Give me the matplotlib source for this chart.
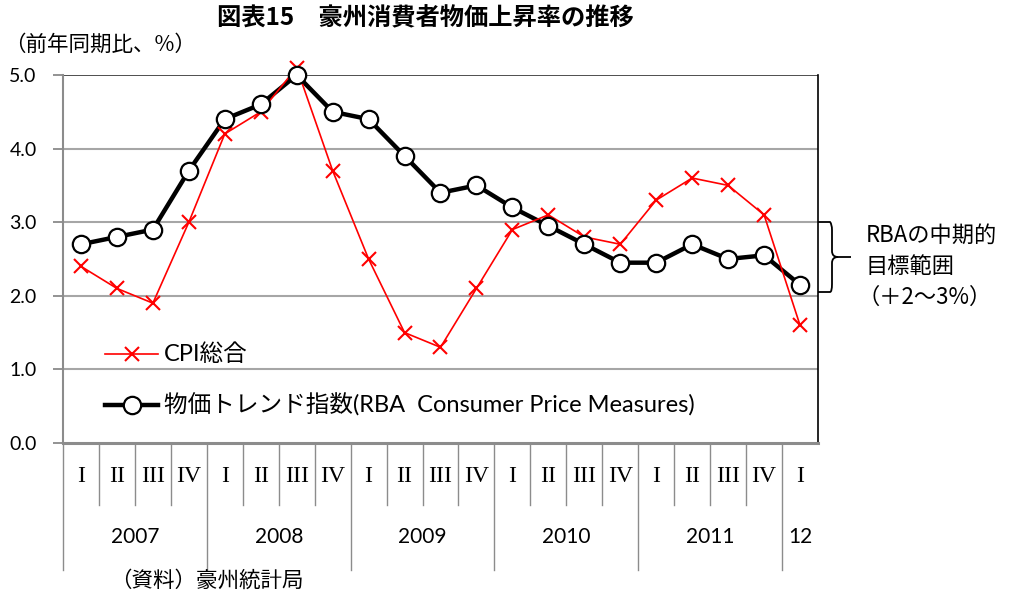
import numpy as np
import matplotlib
matplotlib.use("Agg")
import matplotlib.pyplot as plt
from matplotlib.path import Path
from matplotlib.patches import PathPatch
import matplotlib.transforms as mtransforms

plt.rcParams['font.family'] = ['Noto Sans CJK JP', 'DejaVu Sans']

# ---- data ----
quarters = ['I', 'II', 'III', 'IV'] * 5 + ['I']
years = ['2007', '2008', '2009', '2010', '2011', '12']
year_quarters = [4, 4, 4, 4, 4, 1]
cpi = [2.4, 2.1, 1.9, 3.0, 4.2, 4.5, 5.1, 3.7, 2.5, 1.5, 1.3, 2.1,
       2.9, 3.1, 2.8, 2.7, 3.3, 3.6, 3.5, 3.1, 1.6]
trend = [2.7, 2.8, 2.9, 3.7, 4.4, 4.6, 5.0, 4.5, 4.4, 3.9, 3.4, 3.5,
         3.2, 2.95, 2.7, 2.45, 2.45, 2.7, 2.5, 2.55, 2.15]
yticks = [0.0, 1.0, 2.0, 3.0, 4.0, 5.0]

title = '図表15　豪州消費者物価上昇率の推移'
ylabel = '（前年同期比、%）'
cpi_label = 'CPI総合'
trend_label = '物価トレンド指数(RBA  Consumer Price Measures)'
target_lines = ['RBAの中期的', '目標範囲', '（＋2～3%）']
source = '（資料）豪州統計局'

W, H = 1012, 596
fig = plt.figure(figsize=(W / 100, H / 100), dpi=100)
L, R, T, B = 63, 818, 75, 443
ax = fig.add_axes([L / W, 1 - B / H, (R - L) / W, (B - T) / H])

x = np.arange(len(cpi))
latin = ['Lato', 'Noto Sans CJK JP']

# lines
ax.plot(x, trend, color='black', lw=3.2, zorder=2, solid_joinstyle='round')
ax.plot(x, cpi, color='#ff0000', lw=1.2, zorder=3)
ax.plot(x, cpi, ls='none', marker='x', ms=9.5, mew=1.5, color='#ff0000',
        zorder=4, clip_on=False)
ax.plot(x, trend, ls='none', marker='o', ms=12.5, mfc='white', mec='black',
        mew=1.6, zorder=5, clip_on=False)

ax.set_xlim(-0.5, len(cpi) - 0.5)
ax.set_ylim(0, 5.0)
ax.set_yticks(yticks)
ax.set_yticklabels([f'{v:.1f}' for v in yticks], fontsize=14, family=latin)
ax.tick_params(axis='y', length=7, width=1.2, color='#808080', pad=12)
ax.set_xticks([])

for v in yticks[1:-1]:
    ax.axhline(v, color='#a6a6a6', lw=1.5, zorder=1)
ax.axhline(5.0, color='#404040', lw=1.3, zorder=1)

ax.spines['top'].set_visible(False)
ax.spines['left'].set_color('#8c8c8c')
ax.spines['left'].set_linewidth(1.5)
ax.spines['bottom'].set_color('#8c8c8c')
ax.spines['bottom'].set_linewidth(2.2)
ax.spines['right'].set_color('black')
ax.spines['right'].set_linewidth(1.2)

# category axis table
trans = mtransforms.blended_transform_factory(ax.transData, ax.transAxes)
q_bot = (B - 505) / (B - T)
y_bot = (B - 570) / (B - T)
q_mid = (B - 476) / (B - T)
y_mid = (B - 537) / (B - T)
year_edges = np.cumsum([0] + year_quarters)
for k in range(len(cpi)):
    edge = k - 0.5
    if k in year_edges:
        ax.plot([edge, edge], [0, y_bot], transform=trans, color='#8c8c8c',
                lw=1.0, clip_on=False)
    else:
        ax.plot([edge, edge], [0, q_bot], transform=trans, color='#8c8c8c',
                lw=1.0, clip_on=False)
    ax.text(k, q_mid, quarters[k], transform=trans, ha='center', va='center',
            fontsize=17, family='Liberation Serif')
for i, yr in enumerate(years):
    c = (year_edges[i] + year_edges[i + 1] - 1) / 2
    ax.text(c, y_mid, yr, transform=trans, ha='center', va='center',
            fontsize=15, family=latin)

# legend (manual)
leg_tr = ax.transAxes
lx0, lx1 = (105 - L) / (R - L), (158 - L) / (R - L)
ly1, ly2 = (B - 354) / (B - T), (B - 405) / (B - T)
ax.plot([lx0, lx1], [ly1, ly1], transform=leg_tr, color='#ff0000', lw=1.2, clip_on=False)
ax.plot([(lx0 + lx1) / 2], [ly1], transform=leg_tr, marker='x', ms=9.5,
        mew=1.5, color='#ff0000', clip_on=False)
ax.plot([lx0, lx1], [ly2, ly2], transform=leg_tr, color='black', lw=3.2, clip_on=False)
ax.plot([(lx0 + lx1) / 2], [ly2], transform=leg_tr, marker='o', ms=12.5,
        mfc='white', mec='black', mew=1.6, clip_on=False, zorder=6)
tx = (164 - L) / (R - L)
ax.text(tx, ly1, cpi_label, transform=leg_tr, ha='left', va='center',
        fontsize=17, family=latin)
ax.text(tx, ly2, trend_label, transform=leg_tr, ha='left', va='center',
        fontsize=17, family=latin)

# brace for target range
def fx(px):
    return px / W
def fy(py):
    return 1 - py / H
y3, y2 = 222, 292
ym = (y3 + y2) / 2
verts = [(fx(818), fy(y3)), (fx(830), fy(y3)), (fx(832), fy(y3 + 2)), (fx(832), fy(y3 + 8)),
         (fx(832), fy(ym - 6)), (fx(832), fy(ym)), (fx(838), fy(ym)),
         (fx(851), fy(ym)),
         (fx(838), fy(ym)), (fx(832), fy(ym)), (fx(832), fy(ym + 6)),
         (fx(832), fy(y2 - 8)), (fx(832), fy(y2)), (fx(830), fy(y2)), (fx(818), fy(y2))]
codes = [Path.MOVETO, Path.LINETO, Path.CURVE3, Path.CURVE3,
         Path.LINETO, Path.CURVE3, Path.CURVE3,
         Path.LINETO,
         Path.MOVETO, Path.CURVE3, Path.CURVE3,
         Path.LINETO, Path.CURVE3, Path.CURVE3, Path.LINETO]
fig.patches.append(PathPatch(Path(verts, codes), transform=fig.transFigure,
                             fill=False, lw=1.3, edgecolor='black'))
for i, (line, px0) in enumerate(zip(target_lines, [866, 866, 858])):
    fig.text(fx(px0), fy(235 + 31 * i), line, ha='left', va='center', fontsize=16)

# titles
fig.text(fx(425), fy(18), title, ha='center', va='center', fontsize=17.5,
         fontweight='bold')
fig.text(fx(4), fy(45), ylabel, ha='left', va='center', fontsize=15.5)
fig.text(fx(110), fy(581), source, ha='left', va='center', fontsize=15.5)

fig.savefig('out.png', dpi=100)
